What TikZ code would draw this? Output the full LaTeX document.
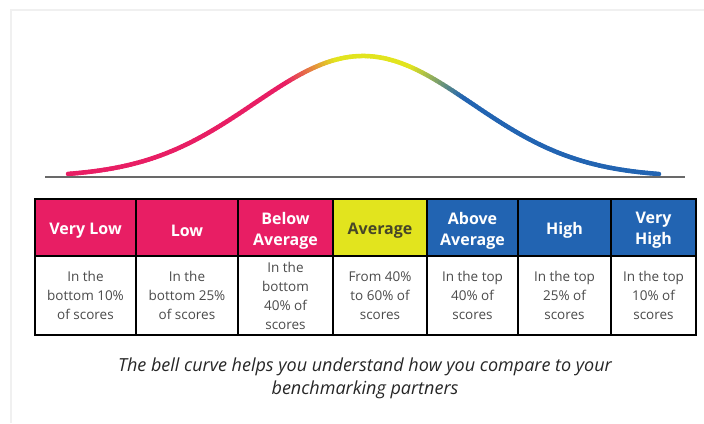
\documentclass[tikz,border=0pt]{standalone}
\usepackage{fontspec}
\setmainfont{Open Sans}
\definecolor{BCpink}{RGB}{232,30,100}
\definecolor{BCyellow}{RGB}{226,228,30}
\definecolor{BCblue}{RGB}{34,100,178}
\definecolor{BCline}{RGB}{105,105,105}
\definecolor{BCtext}{RGB}{75,75,75}
\definecolor{BCdark}{RGB}{70,70,40}

\begin{document}
\begin{tikzpicture}[x=1pt, y=-1pt,
	declare function={bell(\x)=177-121*exp(-0.5*((\x-363)/109)^2);},
	headcell/.style={draw=black, line width=1.4pt, outer sep=0, inner sep=0, minimum height=57pt},
	headtext/.style={font=\bfseries\fontsize{16}{21}\selectfont, align=center, yshift=-3pt, inner sep=0},
	bodycell/.style={draw=black, line width=1.4pt, outer sep=0, inner sep=0, minimum height=79pt,
		fill=white, text=BCtext, font=\fontsize{13.5}{19}\selectfont, align=center},
	bellseg/.style={line width=4.5pt, line cap=round},
	caption/.style={font=\itshape\fontsize{18}{23}\selectfont, text=black!85, align=center}
	]
	\useasboundingbox (0,0) rectangle (704,423);
	\draw [line width=1.5pt, black!6] (11,423) -- (11,10) -- (704,10);

	% the curve, coloured along x
	\foreach \xa in {68,71,...,657} {
		\pgfmathsetmacro\xb{\xa+3}
		\pgfmathsetmacro\xm{\xa+1.5}
		\pgfmathsetmacro\ty{min(100,max(0,(\xm-287)*2))}
		\pgfmathsetmacro\tb{min(100,max(0,(\xm-412)/52*100))}
		\colorlet{segc}{BCyellow!\ty!BCpink}
		\colorlet{segc}{BCblue!\tb!segc}
		\draw [bellseg, segc] (\xa,{bell(\xa)}) -- (\xb,{bell(\xb)});
	}
	\draw [line width=1.5pt, BCline] (45,177) -- (685,177);

	% the table
	\foreach \xa/\xb/\fc/\tc/\hd/\bd [count=\i] in {
		35/136/BCpink/white/{Very Low}/{In the\\bottom 10\%\\of scores},
		136/238/BCpink/white/{Low}/{In the\\bottom 25\%\\of scores},
		238/333/BCpink/white/{Below\\Average}/{In the\\bottom\\40\% of\\scores},
		333/427/BCyellow/BCdark/{Average}/{From 40\%\\to 60\% of\\scores},
		427/518/BCblue/white/{Above\\Average}/{In the top\\40\% of\\scores},
		518/611/BCblue/white/{High}/{In the top\\25\% of\\scores},
		611/696/BCblue/white/{Very\\High}/{In the top\\10\% of\\scores}} {
		\pgfmathsetmacro\cx{(\xa+\xb)/2}
		\pgfmathsetmacro\cw{\xb-\xa}
		\node [headcell, fill=\fc, minimum width=\cw, label={[headtext, text=\tc]center:{\hd}}] (head\i) at (\cx,227.5) {};
		\node [bodycell, minimum width=\cw, anchor=north] (body\i) at (head\i.south) {\bd};
	}

	\node [caption] (note) at (365,378) {The bell curve helps you understand how you compare to your\\benchmarking partners};
\end{tikzpicture}
\end{document}
